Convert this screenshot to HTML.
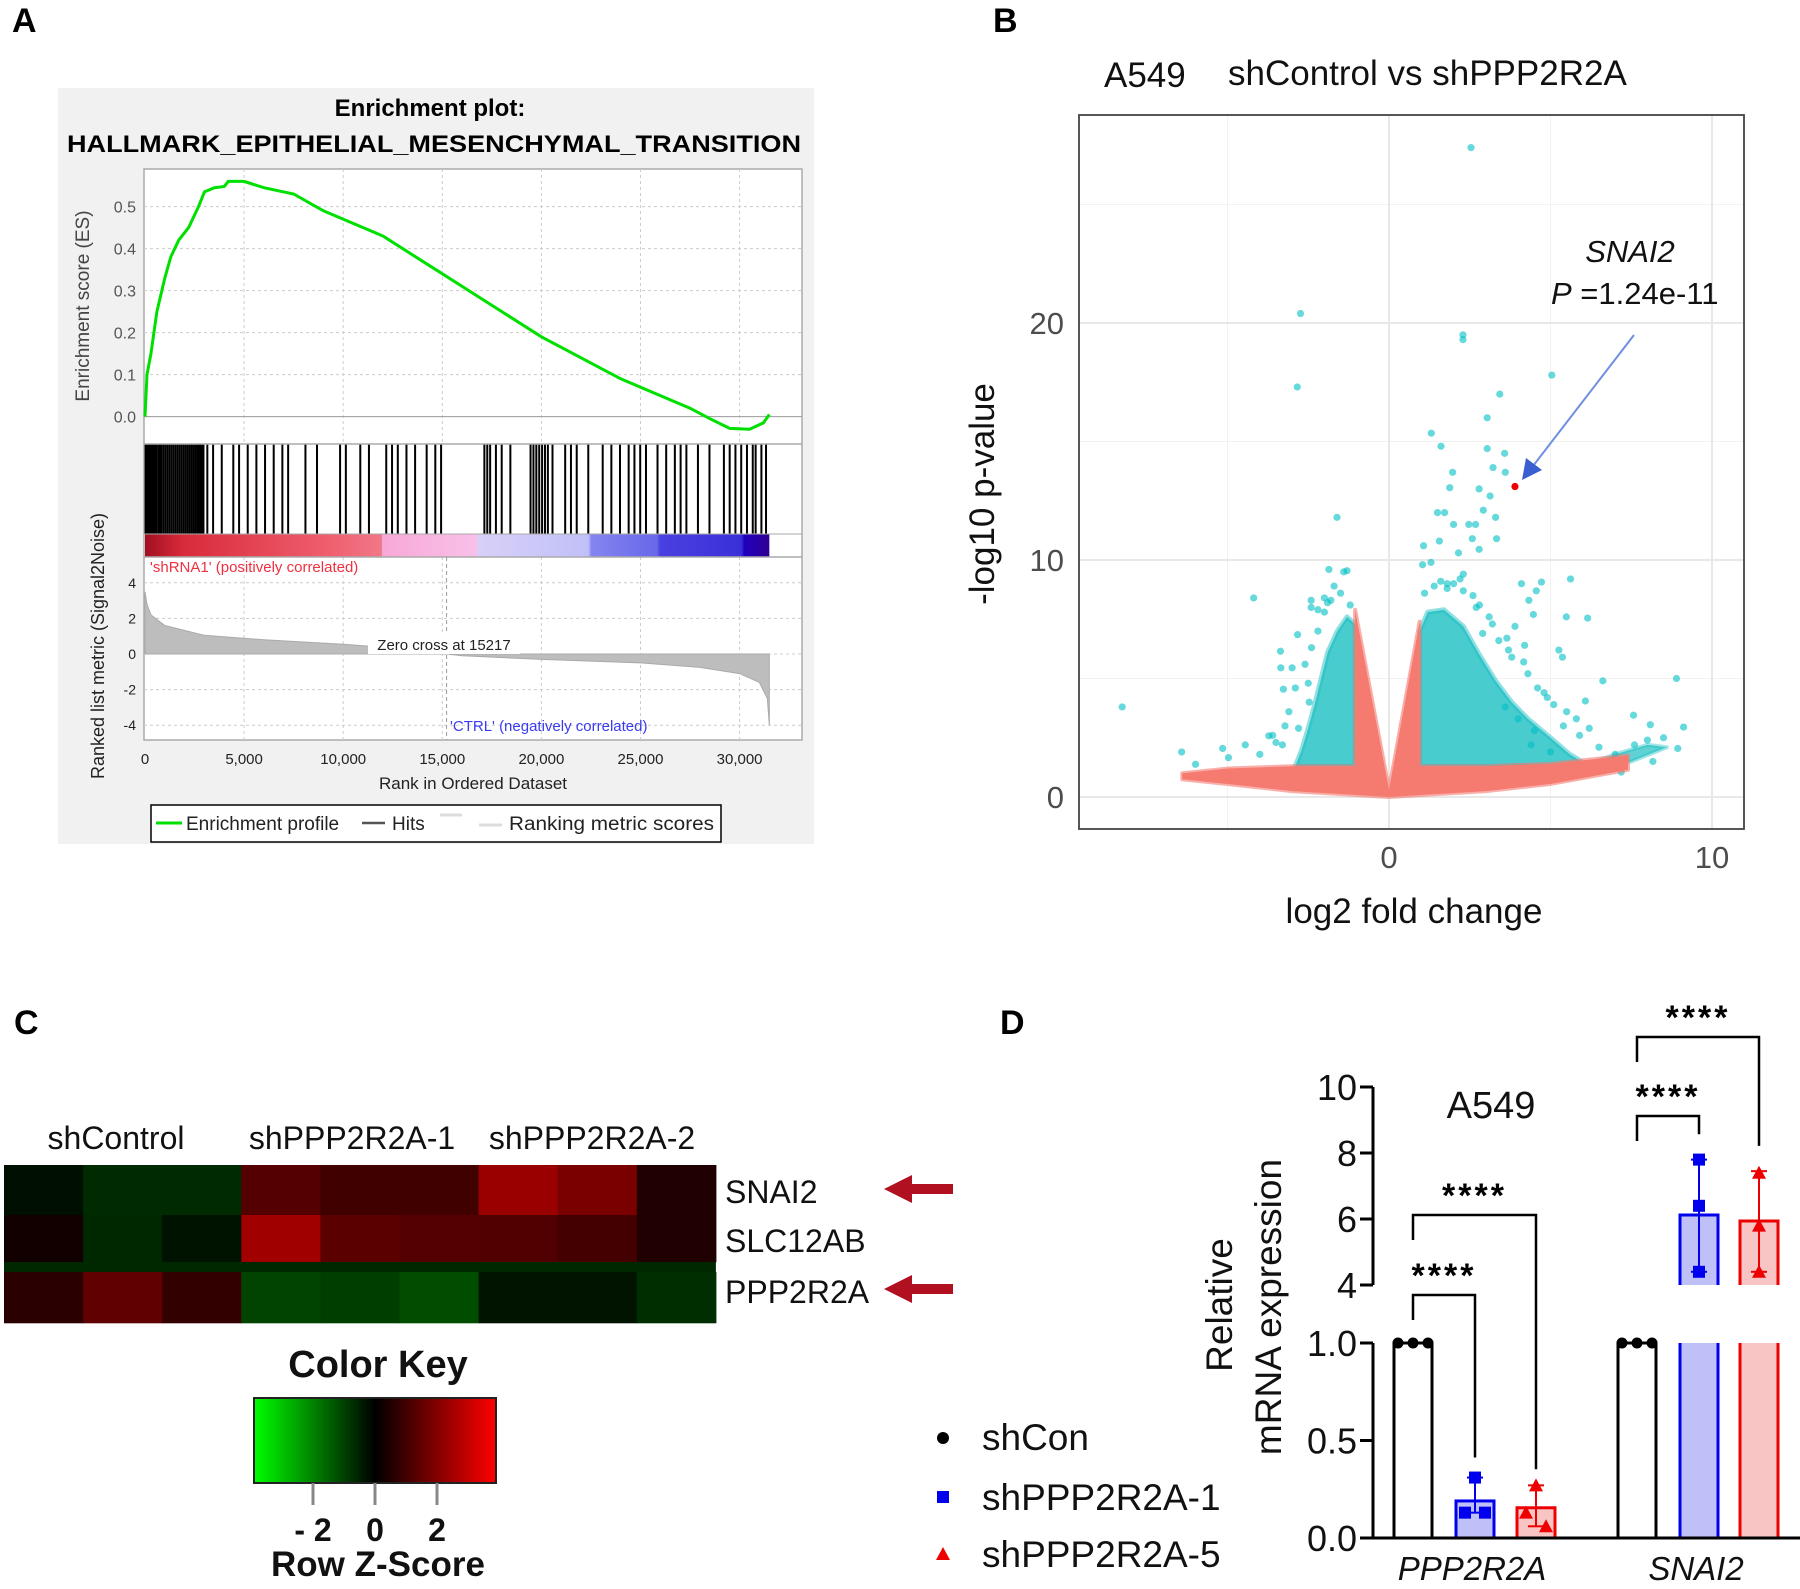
<!DOCTYPE html>
<html><head><meta charset="utf-8"><style>
html,body{margin:0;padding:0;background:#fff;}
svg{display:block;font-family:"Liberation Sans",Arial,sans-serif;}
</style></head><body>
<svg id="fig" width="1800" height="1589" viewBox="0 0 1800 1589" xmlns="http://www.w3.org/2000/svg">
<text x="12" y="32" font-size="34" font-weight="bold">A</text>
<text x="993" y="32" font-size="34" font-weight="bold">B</text>
<text x="14" y="1034" font-size="34" font-weight="bold">C</text>
<text x="1000" y="1034" font-size="34" font-weight="bold">D</text>

<g id="gsea">
<rect x="58" y="88" width="756" height="756" fill="#f1f1f1"/>
<text x="430" y="116" font-size="24" font-weight="bold" text-anchor="middle">Enrichment plot:</text>
<text x="434" y="152" font-size="24" font-weight="bold" text-anchor="middle" textLength="734" lengthAdjust="spacingAndGlyphs">HALLMARK_EPITHELIAL_MESENCHYMAL_TRANSITION</text>
<rect x="144" y="169" width="658" height="571" fill="#fff" stroke="#aaa" stroke-width="1.5"/>
<g id="gsea-grid"></g>
<g id="gsea-hits"></g>
<defs>
<linearGradient id="rankgrad" x1="0" x2="1" y1="0" y2="0">
<stop offset="0" stop-color="#a01020"/><stop offset="0.06" stop-color="#d82a3a"/><stop offset="0.3" stop-color="#f06070"/><stop offset="0.379" stop-color="#f07888"/><stop offset="0.38" stop-color="#f8a8d8"/><stop offset="0.53" stop-color="#f8c0e8"/><stop offset="0.535" stop-color="#d8d0f8"/><stop offset="0.71" stop-color="#c0c0f8"/><stop offset="0.715" stop-color="#8484f0"/><stop offset="0.82" stop-color="#6868ea"/><stop offset="0.825" stop-color="#4a40e0"/><stop offset="0.955" stop-color="#3a30d8"/><stop offset="0.96" stop-color="#2000c0"/><stop offset="1" stop-color="#300090"/>
</linearGradient>
<linearGradient id="keygrad" x1="0" x2="1" y1="0" y2="0">
<stop offset="0" stop-color="#00ff00"/><stop offset="0.5" stop-color="#000"/><stop offset="1" stop-color="#ff0000"/>
</linearGradient>
</defs>
<rect id="rankbar" y="534" height="23" fill="url(#rankgrad)"/>
<line x1="144" y1="444" x2="802" y2="444" stroke="#aaa" stroke-width="1.5"/>
<line x1="144" y1="534" x2="802" y2="534" stroke="#aaa" stroke-width="1"/>
<line x1="144" y1="557" x2="802" y2="557" stroke="#aaa" stroke-width="1.5"/>
<g id="gsea-metric"></g>
<polyline id="es-curve" fill="none" stroke="#00e000" stroke-width="3"/>
<g id="gsea-axes" font-size="15" fill="#555"></g>
<text x="150" y="572" font-size="15" fill="#f03040">'shRNA1' (positively correlated)</text>
<text x="450" y="731" font-size="15" fill="#3a3af0">'CTRL' (negatively correlated)</text>
<text x="89" y="306" font-size="19" fill="#444" text-anchor="middle" transform="rotate(-90 89 306)">Enrichment score (ES)</text>
<text x="104" y="646" font-size="18" fill="#222" text-anchor="middle" transform="rotate(-90 104 646)">Ranked list metric (Signal2Noise)</text>
<text x="473" y="789" font-size="17" fill="#222" text-anchor="middle">Rank in Ordered Dataset</text>
<g>
<rect x="151" y="805" width="570" height="37" fill="#fff" stroke="#000" stroke-width="1.5"/>
<line x1="156" y1="823" x2="182" y2="823" stroke="#00e000" stroke-width="3"/>
<text x="186" y="830" font-size="19" fill="#222">Enrichment profile</text>
<line x1="362" y1="823" x2="385" y2="823" stroke="#555" stroke-width="2.5"/>
<text x="392" y="830" font-size="19" fill="#222">Hits</text>
<line x1="440" y1="815" x2="462" y2="815" stroke="#ddd" stroke-width="3"/>
<line x1="479" y1="825" x2="502" y2="825" stroke="#ddd" stroke-width="3"/>
<text x="509" y="830" font-size="19" fill="#222" textLength="205" lengthAdjust="spacingAndGlyphs">Ranking metric scores</text>
</g>
</g>

<g id="volcano">
<text x="1104" y="87" font-size="35" fill="#111">A549</text>
<text x="1228" y="85" font-size="35" fill="#111">shControl vs shPPP2R2A</text>
<g id="vgrid"></g>
<g id="vmarks"></g>
<rect x="1079" y="115" width="665" height="714" fill="none" stroke="#444" stroke-width="1.8"/>
<g id="vaxes" font-size="31" fill="#4d4d4d"></g>
<text x="1414" y="923" font-size="35" text-anchor="middle" fill="#111">log2 fold change</text>
<text x="994" y="494" font-size="35" text-anchor="middle" fill="#111" transform="rotate(-90 994 494)">-log10 p-value</text>
<text x="1630" y="262" font-size="31" font-style="italic" text-anchor="middle" fill="#111">SNAI2</text>
<text x="1551" y="304" font-size="31" fill="#111"><tspan font-style="italic">P</tspan> =1.24e-11</text>
<line x1="1634" y1="335" x2="1533" y2="466" stroke="#6f8fe0" stroke-width="2"/>
<polygon points="1522,480 1526,458 1542,470" fill="#3a5fd0"/>
</g>

<g id="heatmap">
<text x="116" y="1149" font-size="32" text-anchor="middle" fill="#111">shControl</text>
<text x="352" y="1149" font-size="32" text-anchor="middle" fill="#111">shPPP2R2A-1</text>
<text x="592" y="1149" font-size="32" text-anchor="middle" fill="#111">shPPP2R2A-2</text>
<g id="hcells"></g>
<text x="725" y="1203" font-size="32" fill="#111">SNAI2</text>
<text x="725" y="1252" font-size="32" fill="#111">SLC12AB</text>
<text x="725" y="1303" font-size="32" fill="#111">PPP2R2A</text>
<polygon points="884,1189 912,1175 912,1184 953,1184 953,1194 912,1194 912,1203" fill="#b01020"/>
<polygon points="884,1289 912,1275 912,1284 953,1284 953,1294 912,1294 912,1303" fill="#b01020"/>
<text x="378" y="1377" font-size="38" font-weight="bold" text-anchor="middle" fill="#111">Color Key</text>
<rect x="254" y="1398" width="242" height="85" fill="url(#keygrad)" stroke="#222" stroke-width="2"/>
<g id="keyticks"></g>
<text x="378" y="1576" font-size="35" font-weight="bold" text-anchor="middle" fill="#111">Row Z-Score</text>
</g>

<g id="barchart">
<g id="dmarks"></g>
<g id="daxes" font-size="36" fill="#111"></g>
<text x="1491" y="1118" font-size="38" text-anchor="middle" fill="#111">A549</text>
<text x="1232" y="1305" font-size="37" text-anchor="middle" fill="#111" transform="rotate(-90 1232 1305)">Relative</text>
<text x="1281" y="1307" font-size="37" text-anchor="middle" fill="#111" transform="rotate(-90 1281 1307)">mRNA expression</text>
<g>
<circle cx="943" cy="1438" r="6" fill="#000"/>
<text x="982" y="1450" font-size="37" fill="#111">shCon</text>
<rect x="937" y="1491" width="12" height="12" fill="#0000ee"/>
<text x="982" y="1510" font-size="37" fill="#111">shPPP2R2A-1</text>
<polygon points="943,1547 950,1560 936,1560" fill="#ee0000"/>
<text x="982" y="1567" font-size="37" fill="#111">shPPP2R2A-5</text>
</g>
</g>
</svg>
<script>
const esRanks = [0,100,300,600,1000,1300,1700,2200,2700,3000,3500,4000,4200,5000,6000,7500,9000,10500,12000,14000,16000,18000,20000,22000,24000,26000,27500,28500,29500,30500,31200,31500];
const esValues = [0,0.1,0.15,0.25,0.33,0.38,0.42,0.45,0.5,0.535,0.545,0.548,0.56,0.56,0.545,0.53,0.49,0.46,0.43,0.37,0.31,0.25,0.19,0.14,0.09,0.05,0.02,-0.005,-0.028,-0.03,-0.015,0.005];
const hitRanks = [30,80,150,220,300,380,450,520,600,700,780,850,950,1050,1150,1250,1350,1450,1550,1650,1750,1850,1950,2050,2150,2250,2350,2450,2550,2650,2750,2850,2950,3145,3436,3873,4455,4747,5183,5620,6057,6494,6931,7222,8095,8678,9843,10134,10862,11299,12172,12464,12755,13192,13628,14211,14647,14939,17123,17269,17414,17705,17997,18434,19453,19599,19744,19890,20035,20181,20327,20560,21200,21491,21782,22365,23093,23530,23966,24403,24694,24985,25277,25859,26296,26733,27024,27315,27898,28480,29208,29499,29790,30081,30372,30664,30809,31100,31333];
const metricRanks = [0,100,300,1000,3000,6000,10000,13000,15217,16000,20000,25000,28000,30000,31000,31400,31500];
const metricValues = [3.5,2.8,2.2,1.6,1.05,0.8,0.55,0.3,0,-0.1,-0.3,-0.5,-0.75,-1.1,-1.6,-2.5,-4];
const esTicks = [0,0.1,0.2,0.3,0.4,0.5];
const esTickLabels = ["0.0","0.1","0.2","0.3","0.4","0.5"];
const metricTicks = [4,2,0,-2,-4];
const rankTicks = [0,5000,10000,15000,20000,25000,30000];
const rankTickLabels = ["0","5,000","10,000","15,000","20,000","25,000","30,000"];
const zeroCross = 15217;

const cyanX = [2.54,-2.74,2.29,2.29,-2.84,5.04,3.43,3.04,1.31,1.61,3.04,3.58,3.22,3.6,1.97,1.88,2.79,3.13,2.92,1.5,1.72,3.3,-1.61,2.0,2.47,2.68,1.56,2.58,3.33,2.79,2.15,1.07,1.04,-1.86,-1.4,-1.3,4.1,4.72,5.62,4.56,4.33,-4.19,-2.41,-2.41,5.49,6.15,4.47,3.65,4.2,-2.83,-3.36,-3.35,-3.0,5.26,5.37,4.17,6.62,8.9,-3.27,-8.26,6.08,7.57,8.09,9.12,8.5,8.94,8.17,7.19,-6.42,-5.99,-5.15,-4.45,-4.97,-3.72,-3.22,-3.5,-2.47,2.2,1.8,2.6,3.9,4.9,5.8,6.5,7.0,7.6,8.0,-2.0,-1.7,-2.2,1.3,1.6,2.3,2.8,
 3.4,3.8,4.3,4.6,5.1,3.6,4.0,4.5,5.4,5.9,3.2,2.9,3.7,4.8,5.5,6.2,-2.6,-2.9,-3.1,-2.4,-2.8,-3.3,-3.6,-4.0,-2.2,-2.0,-1.9,-2.5,1.1,1.4,1.8,2.3,2.7,3.1,4.4,5.0,-1.5,-1.8,-1.2,2.0];
const cyanY = [27.4,20.4,19.5,19.3,17.3,17.8,17.0,16.0,15.35,14.8,14.7,14.5,13.9,13.7,13.7,13.05,13.0,12.7,12.1,12.0,12.0,11.8,11.8,11.5,11.5,11.5,10.8,10.9,10.9,10.45,10.3,10.6,9.8,9.6,9.5,9.55,9.0,9.07,9.2,8.7,8.3,8.4,8.3,8.0,7.6,7.55,7.7,6.7,6.4,6.85,6.15,5.45,5.45,6.2,5.9,5.7,4.9,5.0,4.55,3.8,4.05,3.45,3.05,2.95,2.5,2.05,1.5,1.05,1.9,1.38,2.05,2.2,1.66,2.58,3.0,2.3,4.0,9.2,8.8,8.5,7.2,4.2,3.3,2.1,1.8,2.2,2.4,8.4,8.9,7.9,9.9,9.1,9.4,8.1,
 6.6,5.9,5.2,4.6,3.9,3.8,3.3,2.8,3.0,2.6,7.3,6.9,6.2,4.4,3.6,2.9,5.6,4.6,3.6,6.3,2.9,2.2,2.6,1.8,7.0,7.8,8.2,4.8,8.6,8.9,9.0,8.7,8.0,7.6,2.2,1.9,8.6,8.3,8.1,9.0];
const denseLeftX = [-1.05,-1.05,-1.3,-1.6,-1.9,-2.1,-2.3,-2.5,-2.7,-2.9];
const denseLeftY = [1.3,7.3,7.6,7.0,6.1,5.0,3.9,2.9,2.0,1.3];
const denseRightX = [0.95,0.95,1.2,1.7,2.3,2.8,3.3,3.8,4.3,5.0,5.6,6.2];
const denseRightY = [1.3,7.0,7.8,7.9,7.2,6.0,4.9,4.0,3.3,2.5,1.8,1.3];
const bandX = [6.0,7.0,8.0,8.6,7.5,6.8];
const bandY = [1.3,1.8,2.2,2.1,1.5,1.3];
const salmonX = [-6.4,-5,-3,-1.05,-1.05,0,0.95,0.95,3,5,7.4,7.4,5,3,0,-3,-5,-6.4];
const salmonY = [1.0,1.2,1.3,1.3,7.9,0.3,7.4,1.3,1.3,1.4,1.75,1.15,0.55,0.25,0,0.25,0.55,0.75];
const highlightX = 3.9, highlightY = 13.1;
const vxTicks = [0,10];
const vyTicks = [0,10,20];

const heatRows = ["SNAI2","SLC12AB","PPP2R2A"];
const heatValues = [
  [-0.24,-0.65,-0.65,1.3,0.98,0.98,2.34,1.87,0.49],
  [0.28,-0.61,-0.28,2.45,1.38,1.3,1.22,1.04,0.49],
  [0.65,1.47,0.78,-1.04,-0.95,-1.17,-0.31,-0.31,-0.7]
];
const keyTicks = [-2,0,2];
const keyTickLabels = ["- 2","0","2"];

const genes = ["PPP2R2A","SNAI2"];
const groups = ["shCon","shPPP2R2A-1","shPPP2R2A-5"];
const barMeans = [[1.0,0.19,0.155],[1.0,6.12,5.94]];
const barPoints = [[[1,1,1],[0.31,0.13,0.13],[0.27,0.13,0.06]],[[1,1,1],[7.8,6.4,4.4],[7.4,5.8,4.4]]];
const barErrLo = [[1,0.13,0.06],[1,4.4,4.4]];
const barErrHi = [[1,0.31,0.27],[1,7.8,7.45]];
const lowTicks = [0,0.5,1.0];
const lowTickLabels = ["0.0","0.5","1.0"];
const highTicks = [4,6,8,10];
const highTickLabels = ["4","6","8","10"];

const NS = "http://www.w3.org/2000/svg";
function mk(tag, attrs, parent){ const e=document.createElementNS(NS,tag); for(const k in attrs) e.setAttribute(k,attrs[k]); parent.appendChild(e); return e; }

(function(){
  const xr = r => 145 + r*0.01982;
  const yes = v => 416.6 - v*420;
  const ym = v => 654 - v*17.8;
  const grid = document.getElementById('gsea-grid');
  rankTicks.forEach(t=>{ if(t>0){ const l=mk('line',{x1:xr(t),x2:xr(t),y1:169,y2:444,stroke:'#ccc','stroke-dasharray':'3,3'},grid);
     
    const l2=mk('line',{x1:xr(t),x2:xr(t),y1:557,y2:740,stroke:'#ccc','stroke-dasharray':'3,3'},grid);
      }});
  esTicks.forEach(t=>{ const l=mk('line',{x1:144,x2:802,y1:yes(t),y2:yes(t),stroke: t===0?'#999':'#ccc','stroke-dasharray': t===0?'':'3,3'},grid);
      });
  metricTicks.forEach(t=>{ const l=mk('line',{x1:144,x2:802,y1:ym(t),y2:ym(t),stroke:'#ccc','stroke-dasharray':'3,3'},grid);
      });
  const hits = document.getElementById('gsea-hits');
  hitRanks.forEach(r=>{ const l=mk('line',{x1:xr(r),x2:xr(r),y1:444,y2:534,stroke:'#000','stroke-width':2},hits);
      });
  const rb=document.getElementById('rankbar'); rb.setAttribute('x',xr(0)); rb.setAttribute('width',xr(31500)-xr(0));
  const met=document.getElementById('gsea-metric');
  let pts = xr(metricRanks[0])+','+ym(0)+' ';
  metricRanks.forEach((r,i)=>{ pts += xr(r)+','+ym(metricValues[i])+' '; });
  pts += xr(metricRanks[metricRanks.length-1])+','+ym(0);
  const pg=mk('polygon',{points:pts,fill:'#bdbdbd',stroke:'#aaa','stroke-width':1},met);
   
  const zl=mk('line',{x1:xr(zeroCross),x2:xr(zeroCross),y1:557,y2:740,stroke:'#999','stroke-dasharray':'4,3'},met);
   
  const zb=mk('rect',{x:368,y:634,width:152,height:20,fill:'#fff'},met);
   
  const zt=mk('text',{x:444,y:650,'font-size':15,fill:'#222','text-anchor':'middle'},met); zt.textContent='Zero cross at '+zeroCross;
   
  document.getElementById('es-curve').setAttribute('points', esRanks.map((r,i)=>xr(r)+','+yes(esValues[i])).join(' '));
  const ax=document.getElementById('gsea-axes');
  esTicks.forEach((t,i)=>{ const tx=mk('text',{x:136,y:yes(t)+6,'text-anchor':'end','font-size':16},ax); tx.textContent=esTickLabels[i];
      });
  metricTicks.forEach(t=>{ const tx=mk('text',{x:136,y:ym(t)+5,'text-anchor':'end','font-size':14,fill:'#222'},ax); tx.textContent=String(t);
      });
  rankTicks.forEach((t,i)=>{ const tx=mk('text',{x:xr(t),y:764,'text-anchor':'middle','font-size':15,fill:'#222'},ax); tx.textContent=rankTickLabels[i];
      });
})();

(function(){
  const X = v => 1389 + v*32.3;
  const Y = v => 797 - v*23.7;
  const g=document.getElementById('vgrid');
  [-5,5].forEach(v=>{ const l=mk('line',{x1:X(v),x2:X(v),y1:115,y2:829,stroke:'#f2f2f2','stroke-width':1},g);   });
  [5,15,25].forEach(v=>{ const l=mk('line',{x1:1079,x2:1744,y1:Y(v),y2:Y(v),stroke:'#f2f2f2','stroke-width':1},g);   });
  vxTicks.forEach(v=>{ const l=mk('line',{x1:X(v),x2:X(v),y1:115,y2:829,stroke:'#e8e8e8','stroke-width':2},g);   });
  vyTicks.forEach(v=>{ const l=mk('line',{x1:1079,x2:1744,y1:Y(v),y2:Y(v),stroke:'#e8e8e8','stroke-width':2},g);   });
  const m=document.getElementById('vmarks');
  const poly=(xs,ys,col,op,sw,name)=>{ const p=mk('polygon',{points:xs.map((x,i)=>X(x)+','+Y(ys[i])).join(' '),fill:col,stroke:col,'stroke-width':sw,'stroke-linejoin':'round','fill-opacity':op,'stroke-opacity':op*0.6},m);
      };
  poly(denseLeftX,denseLeftY,'#1cbfc2',0.8,5,'dense-cyan-left');
  poly(denseRightX,denseRightY,'#1cbfc2',0.8,5,'dense-cyan-right');
  poly(bandX,bandY,'#1cbfc2',0.7,4,'dense-cyan-band');
  cyanX.forEach((x,i)=>{ const c=mk('circle',{cx:X(x),cy:Y(cyanY[i]),r:3.6,fill:'#00bfc4','fill-opacity':0.6},m);
      });
  poly(salmonX,salmonY,'#f57a70',1,4,'nonsignificant-points');
  const h=mk('circle',{cx:X(highlightX),cy:Y(highlightY),r:3.6,fill:'#ee0000'},m);
   
  const ax=document.getElementById('vaxes');
  vxTicks.forEach(v=>{ const t=mk('text',{x:X(v),y:868,'text-anchor':'middle'},ax); t.textContent=String(v);   });
  vyTicks.forEach(v=>{ const t=mk('text',{x:1064,y:Y(v)+11,'text-anchor':'end'},ax); t.textContent=String(v);   });
})();

(function(){
  const range=3.9;
  const col = v => { const a=Math.min(1,Math.abs(v)/range); const c=Math.round(a*255); return v>=0?`rgb(${c},0,0)`:`rgb(0,${c},0)`; };
  const rowY=[[1165,1215],[1215,1262],[1272,1323]];
  const x0=4, cw=79.1;
  const g=document.getElementById('hcells');
  heatValues.forEach((row,r)=>row.forEach((v,c)=>{ const e=mk('rect',{x:x0+c*cw,y:rowY[r][0],width:cw+0.5,height:rowY[r][1]-rowY[r][0]+0.3,fill:col(v)},g);
      }));
  const s=mk('rect',{x:x0,y:1262,width:cw*9,height:10,fill:'#002800'},g);
   
  const kx = v => 375 + v*31;
  const k=document.getElementById('keyticks');
  keyTicks.forEach((v,i)=>{ const l=mk('line',{x1:kx(v),x2:kx(v),y1:1483,y2:1505,stroke:'#888','stroke-width':3},k);
     
    const t=mk('text',{x:kx(v),y:1541,'text-anchor':'middle','font-size':32,'font-weight':'bold',fill:'#111'},k); t.textContent=keyTickLabels[i];
      });
})();

(function(){
  const yLow = v => 1538 - v*195;
  const yHigh = v => 1285 - (v-4)*33;
  const yv = v => v<=1.0001 ? yLow(v) : yHigh(v);
  const centers=[[1413,1475,1536],[1637,1699,1759]];
  const strokes=['#000','#0000ee','#ee0000'];
  const fills=['#fff','#c0c0f8','#f8c4c4'];
  const bw=38;
  const m=document.getElementById('dmarks');
  genes.forEach((gname,gi)=>groups.forEach((grp,k)=>{
    const cx=centers[gi][k], v=barMeans[gi][k];
    if(v<=1.0001){
      const r=mk('rect',{x:cx-bw/2,y:yLow(v),width:bw,height:yLow(0)-yLow(v),fill:fills[k],stroke:strokes[k],'stroke-width':3},m);
       
    } else {
      const r=mk('rect',{x:cx-bw/2,y:yLow(1),width:bw,height:yLow(0)-yLow(1),fill:fills[k]},m);
       
      [cx-bw/2,cx+bw/2].forEach(xx=>{ const l=mk('line',{x1:xx,x2:xx,y1:yLow(1),y2:yLow(0),stroke:strokes[k],'stroke-width':3},m);
          });
      const r2=mk('rect',{x:cx-bw/2,y:yHigh(v),width:bw,height:yHigh(4)-yHigh(v),fill:fills[k]},m);
       
      const p=mk('polyline',{points:`${cx-bw/2},${yHigh(4)} ${cx-bw/2},${yHigh(v)} ${cx+bw/2},${yHigh(v)} ${cx+bw/2},${yHigh(4)}`,fill:'none',stroke:strokes[k],'stroke-width':3},m);
       
    }
    if(k>0){
      const lo=yv(barErrLo[gi][k]), hi=yv(barErrHi[gi][k]);
      const e=mk('line',{x1:cx,x2:cx,y1:lo,y2:hi,stroke:strokes[k],'stroke-width':2},m);
       
      [lo,hi].forEach(yy=>{ const c=mk('line',{x1:cx-8,x2:cx+8,y1:yy,y2:yy,stroke:strokes[k],'stroke-width':2},m);
          });
    }
    barPoints[gi][k].forEach((pv,j)=>{
      let px = k===0 ? cx+(j-1)*15 : cx;
      if(k>0 && gi===0 && j>0) px = cx + (j===1?-10:10);
      const py=yv(pv); let e;
      if(k===0) e=mk('circle',{cx:px,cy:py,r:5.5,fill:'#000'},m);
      else if(k===1) e=mk('rect',{x:px-6,y:py-6,width:12,height:12,fill:'#0000ee'},m);
      else e=mk('polygon',{points:`${px},${py-7} ${px+7},${py+6} ${px-7},${py+6}`,fill:'#ee0000'},m);
       
    });
  }));
  const brackets=[[0,0,1,1.0,0.30,1295],[0,0,2,1.0,0.24,1215],[1,0,1,1.0,7.9,1116],[1,0,2,1.0,7.55,1037]];
  brackets.forEach(b=>{
    const x1=centers[b[0]][b[1]], x2=centers[b[0]][b[2]];
    const yl = Math.min(yv(b[3])-22, b[5]+25);
    const yr = yv(b[4])-22;
    const p=mk('polyline',{points:`${x1},${yl} ${x1},${b[5]} ${x2},${b[5]} ${x2},${yr}`,fill:'none',stroke:'#000','stroke-width':2.5},m);
     
    const t=mk('text',{x:(x1+x2)/2,y:b[5]-8,'text-anchor':'middle','font-size':34,'font-weight':'bold',fill:'#000','letter-spacing':'3'},m);
    t.textContent='****';
     
  });
  const ax=document.getElementById('daxes');
  const a1=mk('line',{x1:1373,x2:1373,y1:yHigh(10),y2:yHigh(4),stroke:'#000','stroke-width':3},ax);
   
  const a2=mk('line',{x1:1373,x2:1373,y1:yLow(1),y2:yLow(0),stroke:'#000','stroke-width':3},ax);
   
  const a3=mk('line',{x1:1373,x2:1800,y1:yLow(0),y2:yLow(0),stroke:'#000','stroke-width':3},ax);
   
  lowTicks.forEach((v,i)=>{ const l=mk('line',{x1:1360,x2:1373,y1:yLow(v),y2:yLow(v),stroke:'#000','stroke-width':3},ax);
     
    const t=mk('text',{x:1357,y:yLow(v)+13,'text-anchor':'end'},ax); t.textContent=lowTickLabels[i];
      });
  highTicks.forEach((v,i)=>{ const l=mk('line',{x1:1360,x2:1373,y1:yHigh(v),y2:yHigh(v),stroke:'#000','stroke-width':3},ax);
     
    const t=mk('text',{x:1357,y:yHigh(v)+13,'text-anchor':'end'},ax); t.textContent=highTickLabels[i];
      });
  genes.forEach((gname,gi)=>{ const t=mk('text',{x:centers[gi][1]-3,y:1580,'text-anchor':'middle','font-style':'italic','font-size':33},ax); t.textContent=gname;
      });
})();
</script>
</body></html>
